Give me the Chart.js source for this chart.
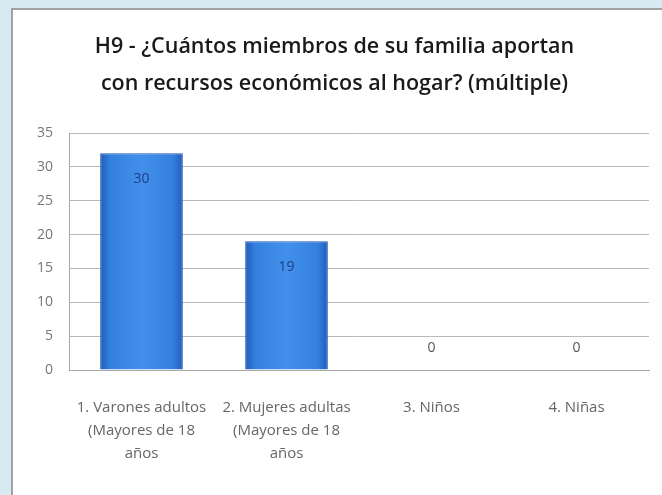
<!DOCTYPE html>
<html>
<head>
<meta charset="utf-8">
<script src="https://cdn.jsdelivr.net/npm/chart.js@4"></script>
<style>
  html, body { margin: 0; padding: 0; }
  body { width: 662px; height: 495px; background: #d8eaf1; position: relative; overflow: hidden; }
  .panel {
    position: absolute; left: 11px; top: 8px; right: 0; bottom: 0;
    background: #fff;
    border-left: 2px solid #a2a2a2; border-top: 2px solid #a2a2a2;
  }
  #chart { position: absolute; left: 0; top: 0; }
</style>
</head>
<body>
<div class="panel"></div>
<canvas id="chart" width="662" height="495"></canvas>
<script>
// chart values
const categories = [
  ['1. Varones adultos', '(Mayores de 18', 'años'],
  ['2. Mujeres adultas', '(Mayores de 18', 'años'],
  '3. Niños',
  '4. Niñas'
];
const values = [32, 19, 0, 0];
const valueLabels = ['30', '19', '0', '0'];
const yTicks = [0, 5, 10, 15, 20, 25, 30, 35];

const titleLines = [
  'H9 - ¿Cuántos miembros de su familia aportan',
  'con recursos económicos al hogar? (múltiple)'
];

const BAR_PCT = 0.57;

// horizontal shading on each bar
function barFill(ctx) {
  const chart = ctx.chart;
  const x = chart.scales && chart.scales.x;
  if (!x || ctx.dataIndex === undefined || !chart.chartArea) return '#3d8ae6';
  const cx = x.getPixelForValue(ctx.dataIndex);
  const w = (x.width / categories.length) * BAR_PCT;
  const g = chart.ctx.createLinearGradient(cx - w / 2, 0, cx + w / 2, 0);
  g.addColorStop(0, '#1f5bbb');
  g.addColorStop(0.12, '#3480de');
  g.addColorStop(0.5, '#4290ec');
  g.addColorStop(0.88, '#3480de');
  g.addColorStop(1, '#1f5bbb');
  return g;
}

// value labels: inside near top for bars, above the axis for zeros
const valueLabelPlugin = {
  id: 'valueLabels',
  afterDatasetsDraw(chart) {
    const c = chart.ctx;
    const meta = chart.getDatasetMeta(0);
    c.save();
    c.font = '14px "Open Sans", sans-serif';
    c.textAlign = 'center';
    c.textBaseline = 'middle';
    meta.data.forEach((bar, i) => {
      if (values[i] > 0) {
        c.fillStyle = '#1b3f86';
        c.fillText(valueLabels[i], bar.x, bar.y + 26);
      } else {
        c.fillStyle = '#555';
        c.fillText(valueLabels[i], bar.x, bar.y - 22);
      }
    });
    c.restore();
  }
};

new Chart(document.getElementById('chart'), {
  type: 'bar',
  data: {
    labels: categories,
    datasets: [{
      data: values,
      backgroundColor: barFill,
      borderColor: '#1b56ad',
      borderWidth: 1,
      barPercentage: BAR_PCT,
      categoryPercentage: 1
    }]
  },
  options: {
    responsive: false,
    animation: false,
    layout: { padding: { left: 20, right: 13, top: 8, bottom: 0 } },
    plugins: {
      legend: { display: false },
      tooltip: { enabled: false },
      title: {
        display: true,
        text: titleLines,
        color: '#1a1a1a',
        font: { family: '"Open Sans", sans-serif', size: 21.5, weight: '600', lineHeight: '37px' },
        padding: { top: 20, bottom: 31 }
      }
    },
    scales: {
      x: {
        grid: { display: false, drawTicks: false },
        border: { color: '#a8a8a8' },
        ticks: {
          color: '#666',
          font: { family: '"Open Sans", sans-serif', size: 15, lineHeight: '23px' },
          padding: 26,
          autoSkip: false,
          maxRotation: 0
        },
        afterFit(scale) { scale.height = 125; }
      },
      y: {
        min: 0,
        max: 35,
        afterBuildTicks(scale) { scale.ticks = yTicks.map(v => ({ value: v })); },
        grid: { color: '#b9b9b9', drawTicks: false },
        border: { color: '#a8a8a8' },
        ticks: {
          color: '#777',
          font: { family: '"Open Sans", sans-serif', size: 14 },
          padding: 16
        },
        afterFit(scale) { scale.width = 49; }
      }
    }
  },
  plugins: [valueLabelPlugin]
});
</script>
</body>
</html>
